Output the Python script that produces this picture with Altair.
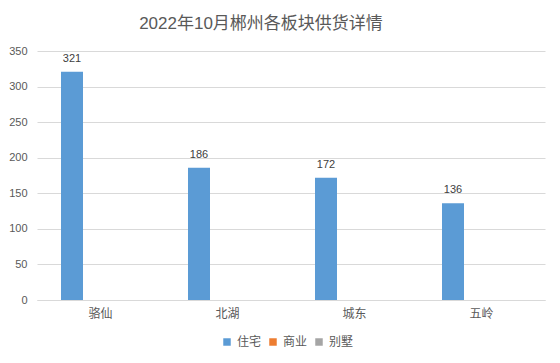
import altair as alt
import pandas as pd

categories = ["骆仙", "北湖", "城东", "五岭"]
series = ["住宅", "商业", "别墅"]
residential = [321, 186, 172, 136]
commercial = [0, 0, 0, 0]
villa = [0, 0, 0, 0]
colors = ["#5B9BD5", "#ED7D31", "#A5A5A5"]

rows = []
for i, c in enumerate(categories):
    for s, vals in zip(series, [residential, commercial, villa]):
        rows.append({"板块": c, "类型": s, "套数": vals[i],
                     "标签": str(vals[i]) if vals[i] > 0 else ""})
df = pd.DataFrame(rows)

FONT = "Liberation Sans, Noto Sans CJK SC"

x = alt.X("板块:N", sort=categories, title=None,
          scale=alt.Scale(paddingInner=0, paddingOuter=0),
          axis=alt.Axis(labelAngle=0, ticks=False, domainColor="#D9D9D9",
                        labelColor="#595959", labelFontSize=12, labelPadding=8,
                        labelFont="Noto Sans CJK SC", grid=False))
xo = alt.XOffset("类型:N", sort=series,
                 scale=alt.Scale(paddingInner=0.228, paddingOuter=0.842))
y = alt.Y("套数:Q", title=None,
          scale=alt.Scale(domain=[0, 350], nice=False),
          axis=alt.Axis(values=list(range(0, 351, 50)), ticks=False, domain=False,
                        gridColor="#D9D9D9", labelColor="#595959", labelFontSize=11,
                        labelPadding=10, labelFont=FONT))

bars = alt.Chart(df).mark_bar().encode(
    x=x, xOffset=xo, y=y,
    color=alt.Color("类型:N", sort=series,
                    scale=alt.Scale(domain=series, range=colors),
                    legend=alt.Legend(title=None, orient="none", direction="horizontal",
                                      legendX=184, legendY=285, symbolType="square",
                                      symbolSize=56, symbolStrokeWidth=0,
                                      labelFontSize=12, labelColor="#595959",
                                      labelFont="Noto Sans CJK SC",
                                      columnPadding=5, symbolOffset=0, labelOffset=4)),
)

labels = alt.Chart(df).mark_text(baseline="bottom", dy=-8, fontSize=11,
                                 color="#404040", font=FONT).encode(
    x=x, xOffset=xo, y=y, text="标签:N"
)

chart = (bars + labels).properties(
    width=508, height=249,
    autosize=alt.AutoSizeParams(type="none"),
    padding={"left": 29, "top": 43, "right": 7, "bottom": 55},
    title=alt.TitleParams("2022年10月郴州各板块供货详情", fontSize=17, fontWeight="normal",
                          color="#595959", font=FONT, anchor="middle", dx=-30, offset=12),
).configure_view(stroke=None)

chart.save("out.html", embed_options={"renderer": "svg", "actions": False})
